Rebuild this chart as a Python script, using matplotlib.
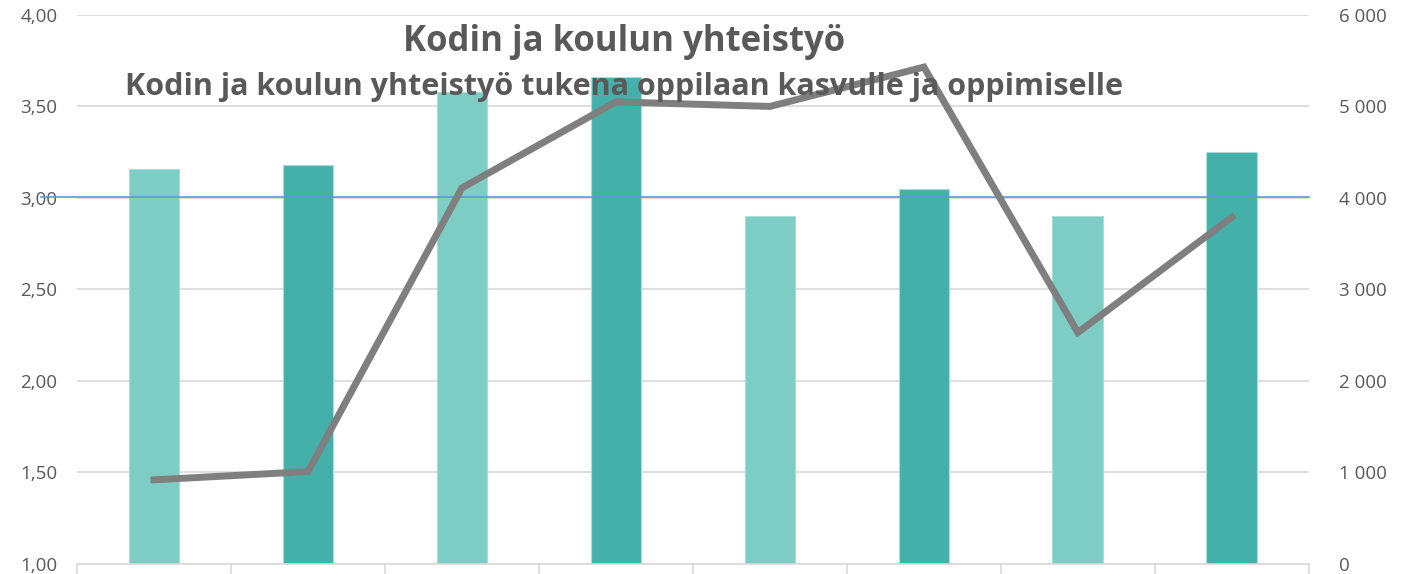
"""
Kodin ja koulun yhteistyö - bars for mean score (left axis),
grey line for respondent count (right axis)
"""

import matplotlib
matplotlib.use('Agg')
import matplotlib.pyplot as plt
import numpy as np

# values
scores = [3.16, 3.18, 3.58, 3.66, 2.90, 3.05, 2.90, 3.25]
counts = [920, 1010, 4110, 5050, 5000, 5430, 2530, 3790]
bar_colors = ['#7ECDC4', '#45B0AA', '#7ECDC4', '#45B0AA',
              '#7ECDC4', '#45B0AA', '#7ECDC4', '#45B0AA']
left_ticks = [1.0, 1.5, 2.0, 2.5, 3.0, 3.5, 4.0]
right_ticks = [0, 1000, 2000, 3000, 4000, 5000, 6000]
reference_level = 3.0

title = 'Kodin ja koulun yhteistyö'
subtitle = 'Kodin ja koulun yhteistyö tukena oppilaan kasvulle ja oppimiselle'

text_color = '#595959'
grid_color = '#D9D9D9'
plt.rcParams['font.family'] = ['Open Sans', 'DejaVu Sans']

fig = plt.figure(figsize=(14.03, 5.74), dpi=100)
ax = fig.add_axes([0.0549, 0.0174, 0.878, 0.9566])

x = np.arange(len(scores))

# gridlines
ax.set_ylim(1.0, 4.0)
ax.set_yticks(left_ticks)
ax.set_yticklabels([f'{v:.2f}'.replace('.', ',') for v in left_ticks])
ax.yaxis.grid(True, color=grid_color, linewidth=1.2)
ax.set_axisbelow(True)

ax.bar(x, [s - 1.0 for s in scores], bottom=1.0, width=0.33,
       color=bar_colors, edgecolor='#A8DDD8', linewidth=0.8, zorder=2)

ax.set_xlim(-0.5, len(scores) - 0.5)
ax.set_xticks(x)
ax.set_xticklabels([])
ax.tick_params(axis='x', which='major', length=0)
ax.set_xticks(np.arange(len(scores) + 1) - 0.5, minor=True)
ax.tick_params(axis='x', which='minor', length=12, color=grid_color, width=1.2)
ax.tick_params(axis='y', length=0, labelsize=13.5, labelcolor=text_color, pad=14)

for s in ['top', 'left', 'right']:
    ax.spines[s].set_visible(False)
ax.spines['bottom'].set_color(grid_color)
ax.spines['bottom'].set_linewidth(1.2)

# blue reference line at 3,00 (runs past the left edge)
ax.plot([-0.735, len(scores) - 0.5], [reference_level + 0.005] * 2,
        color='#5B9BD5', linewidth=1.2, clip_on=False, zorder=3)

# respondent counts on the secondary axis
ax2 = ax.twinx()
ax2.set_ylim(0, 6000)
ax2.set_yticks(right_ticks)
ax2.set_yticklabels([f'{v:,}'.replace(',', ' ') for v in right_ticks])
ax2.tick_params(axis='y', length=0, labelsize=13.5, labelcolor=text_color, pad=22)
for s in ['top', 'left', 'right', 'bottom']:
    ax2.spines[s].set_visible(False)
ax2.plot(x, counts, color='#7F7F7F', linewidth=5, solid_joinstyle='miter', zorder=4)

fig.text(0.4445, 0.927, title, ha='center', va='center', fontsize=25,
         fontweight='bold', color=text_color, zorder=10)
fig.text(0.4445, 0.848, subtitle, ha='center', va='center', fontsize=22,
         fontweight='bold', color=text_color, zorder=10)

fig.savefig('out.png', dpi=100)
